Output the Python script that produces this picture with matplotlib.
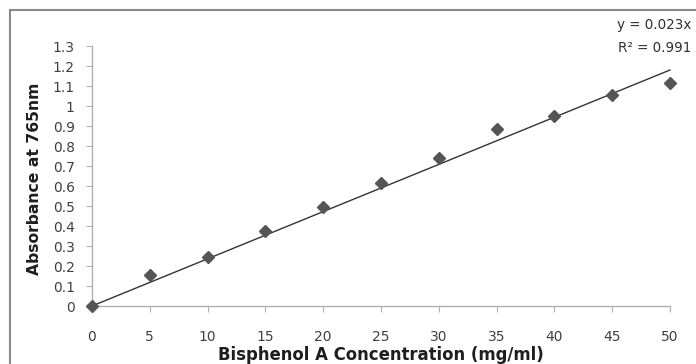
import matplotlib
matplotlib.use("Agg")
import matplotlib.pyplot as plt
from matplotlib.patches import Rectangle
import numpy as np

conc = [0, 5, 10, 15, 20, 25, 30, 35, 40, 45, 50]
absorb = [0.0, 0.153, 0.247, 0.375, 0.493, 0.617, 0.74, 0.887, 0.95, 1.055, 1.115]
slope = 0.0236
xticks = [0, 5, 10, 15, 20, 25, 30, 35, 40, 45, 50]
yticks = [0, 0.1, 0.2, 0.3, 0.4, 0.5, 0.6, 0.7, 0.8, 0.9, 1, 1.1, 1.2, 1.3]
ytick_labels = ["0", "0.1", "0.2", "0.3", "0.4", "0.5", "0.6", "0.7", "0.8", "0.9", "1", "1.1", "1.2", "1.3"]
eq_lines = ["y = 0.023x", "R² = 0.991"]
xlabel = "Bisphenol A Concentration (mg/ml)"
ylabel = "Absorbance at 765nm"

plt.rcParams['font.family'] = ['DejaVu Sans']

W, H = 696, 364
fig = plt.figure(figsize=(W/100, H/100), dpi=100)
fig.patches.append(Rectangle((10/W, -0.1), 1.2, 1 - 10/H + 0.1, transform=fig.transFigure,
                             fill=False, edgecolor='#8a8a8a', linewidth=1.5, zorder=0))

L, R, B, T = 92, 670, 306, 46
ax = fig.add_axes([L/W, 1 - B/H, (R-L)/W, (B-T)/H])
ax.set_xlim(0, 50)
ax.set_ylim(0, 1.3)
ax.patch.set_alpha(0)
for s in ['top', 'right']:
    ax.spines[s].set_visible(False)
for s in ['left', 'bottom']:
    ax.spines[s].set_color('#b0b0b0')
    ax.spines[s].set_linewidth(1)
ax.set_xticks(xticks)
ax.set_yticks(yticks)
ax.set_yticklabels(ytick_labels)
ax.tick_params(axis='both', colors='#b0b0b0', labelcolor='#404040', labelsize=10, length=4.5)
ax.tick_params(axis='x', pad=13)
ax.tick_params(axis='y', pad=8)

xs = np.array([0, 50])
ax.plot(xs, slope * xs, color='#333333', linewidth=1, zorder=2, clip_on=False)
ax.plot(conc, absorb, linestyle='none', marker='D', markersize=6.5, color='#555555', zorder=3, clip_on=False)

xl = ax.set_xlabel(xlabel, fontsize=11, fontweight='bold', color='#1e1e1e')
yl = ax.set_ylabel(ylabel, fontsize=11, fontweight='bold', color='#1e1e1e')
xl.set_va('center'); yl.set_va('center')
ax.xaxis.set_label_coords(0.5, (B - 355) / (B - T))
ax.yaxis.set_label_coords((35 - L) / (R - L), (B - 178.5) / (B - T))

t1 = fig.text(691/W, 1 - 25/H, eq_lines[0], ha='right', va='center', fontsize=9, color='#303030')
t2 = fig.text(691/W, 1 - 48/H, eq_lines[1], ha='right', va='center', fontsize=9, color='#303030')

# fit text sizes to measured widths
fig.canvas.draw()
r = fig.canvas.get_renderer()
def fit(t, target, horiz=True):
    bb = t.get_window_extent(r)
    cur = bb.width if horiz else bb.height
    t.set_fontsize(t.get_fontsize() * target / cur)
fit(xl, 325)
fit(yl, 193, horiz=False)
fit(t1, 75)
t2.set_fontsize(t1.get_fontsize())

fig.savefig('out.png', dpi=100)
